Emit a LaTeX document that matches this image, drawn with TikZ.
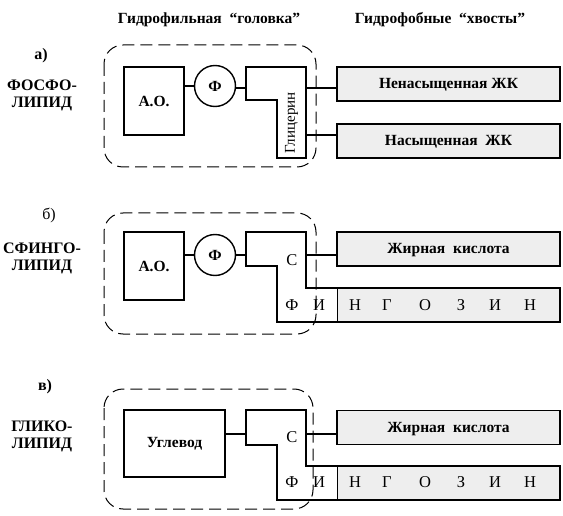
\documentclass[tikz,border=0pt]{standalone}
\usepackage{fontspec}
\setmainfont{Liberation Serif}
\begin{document}
\begin{tikzpicture}[x=1pt,y=-1pt,
  lw/.style={line width=1.4pt},
  boxnode/.style={draw, lw, inner sep=0pt, font=\fontsize{15.5}{17}\selectfont\bfseries},
  phinode/.style={draw, lw, circle, minimum size=41pt, inner sep=0pt, font=\fontsize{15.5}{17}\selectfont\bfseries},
  tailnode/.style={draw, lw, fill=gray!13, minimum width=223pt, minimum height=34pt, inner sep=0pt, text height=11pt, text depth=1pt, font=\fontsize{15.5}{17}\selectfont\bfseries},
  headbox/.style={draw, dash pattern=on 12pt off 6pt, rounded corners=19pt, line width=1pt},
  lbl/.style={font=\fontsize{16}{18}\selectfont\bfseries, align=center},
  hdr/.style={font=\fontsize{15.5}{17}\selectfont\bfseries},
  letter/.style={font=\fontsize{16.5}{17}\selectfont, inner sep=0pt},
  link/.style={lw}]
\useasboundingbox (0,0) rectangle (563,516);

% headers
\node[hdr] (h1) at (209,20) {Гидрофильная \ “головка”};
\node[hdr] (h2) at (440,20) {Гидрофобные \ “хвосты”};

% ---------- panel a ----------
\node[lbl] (la) at (41,56) {а)};
\node[lbl] (na) at (42,95) {ФОСФО-\\[-1pt]ЛИПИД};
\draw[headbox] (104,45) rectangle (316,167);
\node[boxnode, minimum width=60pt, minimum height=68pt] (ao1) at (154,101) {А.О.};
\node[phinode] (f1) at (215,86) {Ф};
\draw[lw] (246,67) -- (306,67) -- (306,158) -- (277,158) -- (277,100) -- (246,100) -- cycle;
\coordinate (g1l) at (246,88);
\coordinate (g1a) at (306,88);
\coordinate (g1b) at (306,135);
\node[rotate=90, font=\fontsize{15}{16}\selectfont] (gl) at (291.5,123) {Глицерин};
\node[tailnode] (t1) at (448.5,84) {Ненасыщенная ЖК};
\node[tailnode] (t2) at (448.5,141) {Насыщенная \ ЖК};
\draw[link] (ao1.east |- f1) -- (f1);
\draw[link] (f1.east |- g1l) -- (g1l);
\draw[link] (g1a) -- (t1.west |- g1a);
\draw[link] (g1b) -- (t2.west |- g1b);

% ---------- panel b ----------
\node[lbl] (lb) at (49,215) {\mdseries б)};
\node[lbl] (nb) at (42,258) {СФИНГО-\\[-1pt]ЛИПИД};
\draw[headbox] (104,213) rectangle (316,334);
\node[boxnode, minimum width=60pt, minimum height=68pt] (ao2) at (154,266) {А.О.};
\node[phinode] (f2) at (215,255) {Ф};
\draw[lw] (246,232) -- (306,232) -- (306,288) -- (560,288) -- (560,322) -- (277,322) -- (277,266) -- (246,266) -- cycle;
\fill[gray!13] (337.7,288.7) rectangle (559.3,321.3);
\draw[line width=0.6pt] (337,288) -- (337,322);
\coordinate (s2l) at (246,255);
\coordinate (s2r) at (306,255);
\node[letter] (c2) at (292,260) {С};
\node[tailnode] (t3) at (448.5,249) {Жирная \ кислота};
\draw[link] (ao2.east |- f2) -- (f2);
\draw[link] (f2.east |- s2l) -- (s2l);
\draw[link] (s2r) -- (t3.west |- s2r);
\foreach \x/\ch [count=\i] in {292/Ф,319/И,355/Н,387/Г,425/О,461/З,495/И,530/Н}
  \node[letter] (b\i) at (\x,305) {\ch};

% ---------- panel c ----------
\node[lbl] (lc) at (45,387) {в)};
\node[lbl] (nc) at (42,436) {ГЛИКО-\\[-1pt]ЛИПИД};
\draw[headbox] (104,389) rectangle (313,509);
\node[boxnode, minimum width=101pt, minimum height=67pt] (ug) at (174.5,443.5) {Углевод};
\draw[lw] (246,410) -- (306,410) -- (306,466) -- (560,466) -- (560,500) -- (277,500) -- (277,445) -- (246,445) -- cycle;
\fill[gray!13] (337.7,466.7) rectangle (559.3,499.3);
\draw[line width=0.6pt] (337,466) -- (337,500);
\coordinate (s3l) at (246,434);
\coordinate (s3r) at (306,434);
\node[letter] (c3) at (292,437) {С};
\node[tailnode] (t4) at (448.5,427.5) {Жирная \ кислота};
\draw[link] (ug.east |- s3l) -- (s3l);
\draw[link] (s3r) -- (t4.west |- s3r);
\foreach \x/\ch [count=\i] in {292/Ф,319/И,355/Н,387/Г,425/О,461/З,495/И,530/Н}
  \node[letter] (c\i) at (\x,482) {\ch};
\end{tikzpicture}
\end{document}
